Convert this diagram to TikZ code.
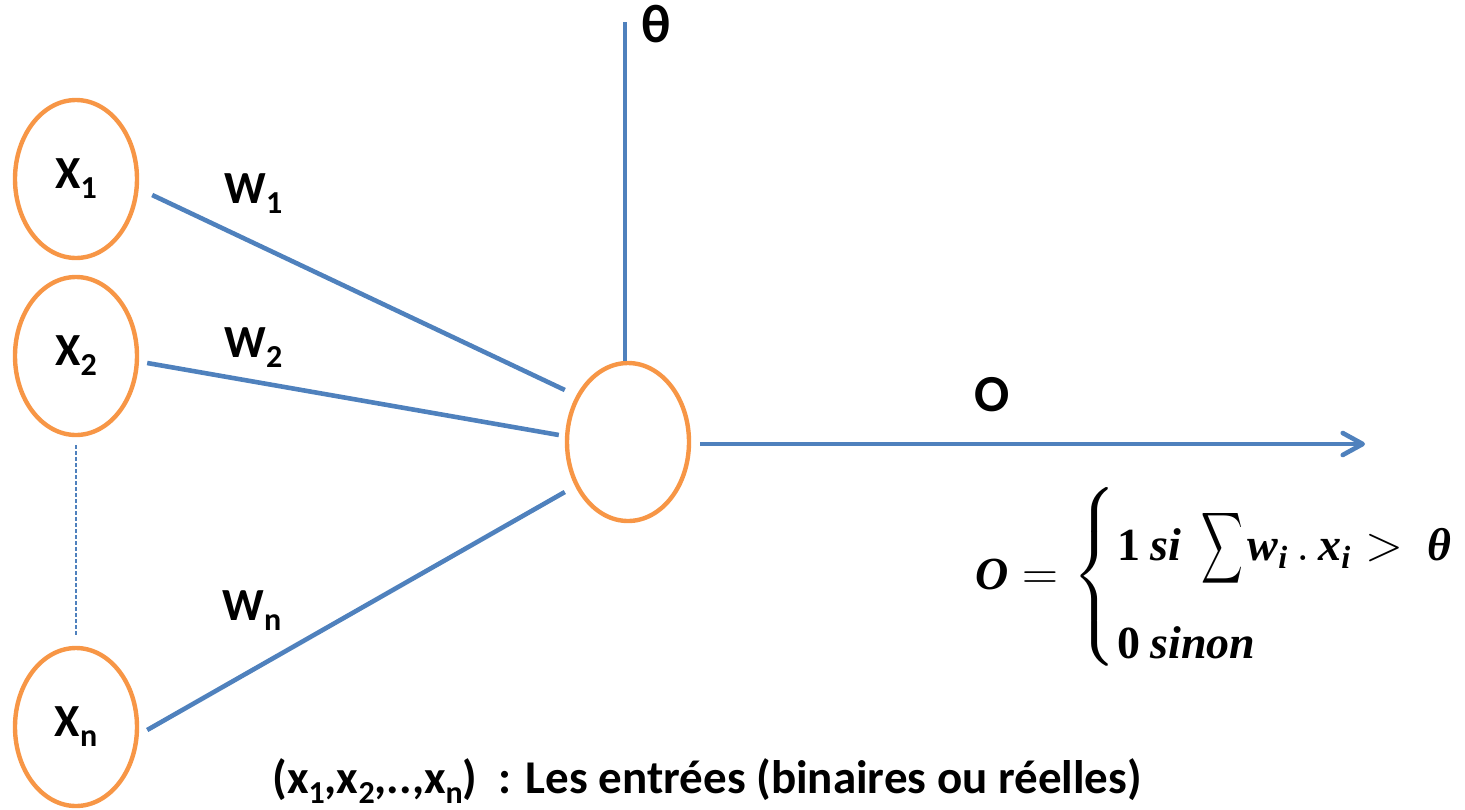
\documentclass[tikz,border=0pt]{standalone}
\usepackage{amsmath}
\usepackage{graphicx}
\usepackage{fontspec}
\setmainfont{Carlito}
\newfontfamily\fserif{Liberation Serif}
\usetikzlibrary{shapes.geometric,arrows.meta}
\definecolor{ored}{HTML}{F79646}
\definecolor{lblue}{HTML}{4F81BD}
\newcommand{\sbs}[1]{\raisebox{-5pt}{\fontsize{16}{16}\selectfont #1}}
\newcommand{\bi}[1]{\text{\fserif\bfseries\itshape #1}}
\newcommand{\bu}[1]{\text{\fserif\bfseries #1}}
\newcommand{\nsum}{\mathord{\scalebox{0.58}[1]{$\displaystyle\sum$}}\kern2pt}
\newcommand{\outformula}{\mbox{$\bi{O}=\left\{\rule[-35pt]{0pt}{70pt}\right.\kern-5pt\raisebox{-7pt}{$\begin{array}{@{}l@{}}\bu{1}\ \bi{si}\ \ \nsum\bi{w}_{\bi{i}}\,.\,\bi{x}_{\bi{i}} >\ \bi{θ}\\[26pt] \bu{0}\ \bi{sinon}\end{array}$}$}}
\begin{document}
\begin{tikzpicture}[x=0.5pt,y=-0.5pt,
  inp/.style={ellipse,draw=ored,line width=2.2pt,minimum width=61pt,minimum height=79pt,inner sep=0pt,font=\fontsize{23}{23}\selectfont\bfseries},
  conn/.style={draw=lblue,line width=2.3pt},
  lbl/.style={font=\fontsize{23}{23}\selectfont\bfseries,inner sep=0pt,anchor=base west}]
\useasboundingbox (0,0) rectangle (1465,809);
% input nodes
\node[inp] (x1) at (76,179) {X\sbs{1}};
\node[inp] (x2) at (76,356) {X\sbs{2}};
\node[inp] (xn) at (76,727) {X\sbs{n}};
% neuron
\node[inp] (n) at (628,442) {};
% dotted separator
\draw[lblue,line width=0.6pt,dash pattern=on 2pt off 1pt] ([yshift=-4pt]x2.south) -- ([yshift=5pt]xn.north);
% weighted connections
\draw[conn] ([xshift=6.5pt,yshift=-8pt]x1.east) -- ([yshift=26pt]n.west);
\draw[conn] ([xshift=4pt,yshift=-3.5pt]x2.east) -- ([xshift=-3pt,yshift=3.5pt]n.west);
\draw[conn] ([xshift=4pt,yshift=-1.5pt]xn.east) -- ([yshift=-25pt]n.west);
% threshold
\coordinate (ttop) at (625,22);
\draw[conn] ([xshift=-1.5pt]n.north) -- (ttop);
% output
\coordinate (otip) at (1365,444);
\draw[conn,-{Straight Barb[length=10pt,width=11pt,round]}] ([xshift=4.5pt,yshift=-1pt]n.east) -- (otip);
% labels
\node[lbl] (w1) at (224,203) {W\sbs{1}};
\node[lbl] (w2) at (224,357) {W\sbs{2}};
\node[lbl] (wn) at (222,620) {W\sbs{n}};
\node[lbl,font=\fontsize{27}{27}\selectfont\bfseries] (th) at (641,42) {θ};
\node[lbl,font=\fontsize{26}{26}\selectfont\bfseries] (o) at (974,411) {O};
\node[anchor=base west,inner sep=0pt,font=\fontsize{23}{23}\selectfont] (f) at (975,589) {\outformula};
\node[lbl,font=\fontsize{23.5}{23.5}\selectfont\bfseries] (txt) at (272,793) {(x\sbs{1},x\sbs{2},..,x\sbs{n})\ \ : Les entrées (binaires ou réelles)};
\end{tikzpicture}
\end{document}
